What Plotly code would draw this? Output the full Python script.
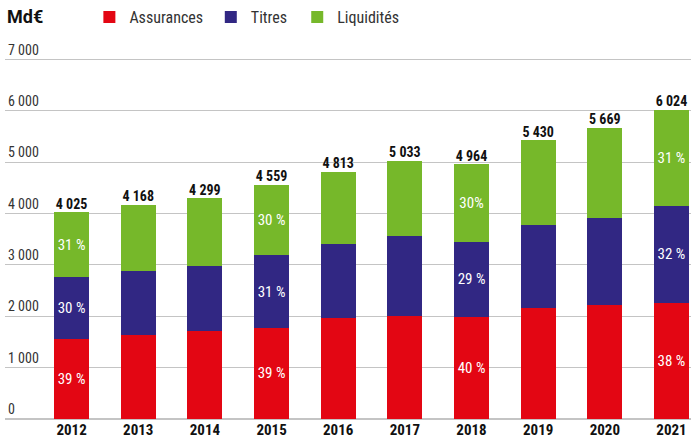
import plotly.graph_objects as go

years = ["2012", "2013", "2014", "2015", "2016", "2017", "2018", "2019", "2020", "2021"]
totals = [4025, 4168, 4299, 4559, 4813, 5033, 4964, 5430, 5669, 6024]
assurances = [1560, 1634, 1712, 1775, 1976, 2015, 1990, 2157, 2229, 2265]
titres = [1200, 1245, 1265, 1410, 1438, 1555, 1461, 1626, 1691, 1890]
liquidites = [t - a - b for t, a, b in zip(totals, assurances, titres)]

pct_assurances = ["39 %", "", "", "39 %", "", "", "40 %", "", "", "38 %"]
pct_titres = ["30 %", "", "", "31 %", "", "", "29 %", "", "", "32 %"]
pct_liquidites = ["31 %", "", "", "30 %", "", "", "30%", "", "", "31 %"]

RED = "#E30613"
NAVY = "#312783"
GREEN = "#76B82A"
FONT = "Roboto Condensed, Roboto, sans-serif"

def fmt(v):
    return f"{v:,}".replace(",", " ")

fig = go.Figure()
for name, vals, pct, color, leg in [
    ("Assurances", assurances, pct_assurances, RED, "legend"),
    ("Titres", titres, pct_titres, NAVY, "legend2"),
    ("Liquidités", liquidites, pct_liquidites, GREEN, "legend3"),
]:
    fig.add_trace(go.Bar(
        x=years, y=vals, name=name, marker_color=color, marker_line_width=0,
        text=pct, textposition="inside", insidetextanchor="middle", textangle=0,
        textfont=dict(color="white", size=15, family=FONT),
        width=0.526, hoverinfo="skip", legend=leg,
    ))

# totals above each bar
fig.add_trace(go.Scatter(
    x=years, y=totals, mode="text", text=[fmt(t) for t in totals],
    textposition="top center", showlegend=False,
    textfont=dict(color="#111", size=14, family=FONT, weight="bold"),
    hoverinfo="skip",
))

legend_style = dict(orientation="h", y=1.058, xanchor="left", yanchor="middle",
                    font=dict(size=16, color="#333"), itemwidth=30)

fig.update_layout(
    barmode="stack",
    width=691, height=438,
    margin=dict(l=5, r=0, t=39, b=19),
    plot_bgcolor="white", paper_bgcolor="white",
    separators=", ",
    font=dict(family=FONT, color="#333"),
    uniformtext=dict(mode="show", minsize=8),
    legend=dict(x=0.123, **legend_style),
    legend2=dict(x=0.300, **legend_style),
    legend3=dict(x=0.426, **legend_style),
    xaxis=dict(
        range=[-0.999, 9.293], showgrid=False, ticks="", showline=False,
        tickfont=dict(size=15, color="#111", weight="bold"),
        ticklabelstandoff=0,
    ),
    yaxis=dict(
        range=[0, 7400], tickvals=[0, 1000, 2000, 3000, 4000, 5000, 6000, 7000],
        tickformat=",d", showgrid=True, gridcolor="#c4c4c4", gridwidth=1,
        zeroline=True, zerolinecolor="#c4c4c4", zerolinewidth=1.5,
        ticklabelposition="inside top", tickfont=dict(size=14, color="#333"),
        ticks="",
    ),
    annotations=[dict(
        text="<b>Md€</b>", xref="paper", yref="paper", x=0, y=1.058,
        xanchor="left", yanchor="middle", showarrow=False,
        font=dict(size=18, color="#111", family="Roboto, sans-serif"),
    )],
)

fig.write_html("out.html", config={"displayModeBar": False},
               post_script="document.body.style.margin='0';")
